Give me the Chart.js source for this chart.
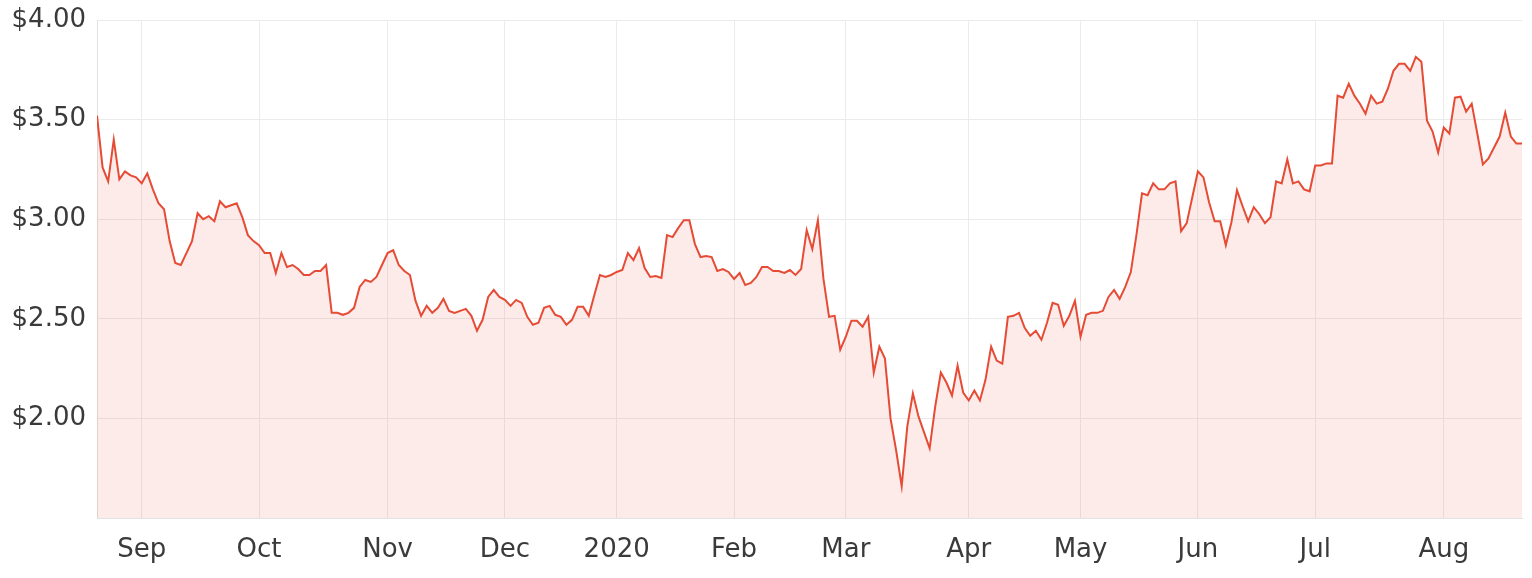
<!DOCTYPE html>
<html>
<head>
<meta charset="utf-8">
<script src="https://cdn.jsdelivr.net/npm/chart.js@4.4.0/dist/chart.umd.min.js"></script>
<style>
  html, body { margin: 0; padding: 0; background: #ffffff; }
  #wrap { width: 1532px; height: 578px; position: relative; }
</style>
</head>
<body>
<div id="wrap"><canvas id="c" width="1532" height="578"></canvas></div>
<script>
// Month tick labels and the trading-day index at which each month starts
const monthLabels = ['Sep','Oct','Nov','Dec','2020','Feb','Mar','Apr','May','Jun','Jul','Aug'];
const monthStartIndex = [8, 29, 52, 73, 93, 114, 134, 156, 176, 197, 218, 241];

// Y-axis tick values
const yTicks = [1.5, 2.0, 2.5, 3.0, 3.5, 4.0];

// Daily closing prices (one per trading day, Aug 2019 - Aug 2020)
const prices = [
  3.52, 3.26, 3.19, 3.40, 3.20, 3.24, 3.22, 3.21, 3.18, 3.23,
  3.15, 3.08, 3.05, 2.89, 2.78, 2.77, 2.83, 2.89, 3.03, 3.00,
  3.015, 2.99, 3.09, 3.06, 3.07, 3.08, 3.01, 2.92, 2.89, 2.87,
  2.83, 2.83, 2.73, 2.83, 2.76, 2.77, 2.75, 2.72, 2.72, 2.74,
  2.74, 2.77, 2.53, 2.53, 2.52, 2.53, 2.555, 2.66, 2.695, 2.685,
  2.71, 2.77, 2.83, 2.845, 2.77, 2.74, 2.72, 2.59, 2.515, 2.565,
  2.53, 2.555, 2.60, 2.54, 2.53, 2.54, 2.55, 2.515, 2.44, 2.495,
  2.61, 2.645, 2.61, 2.595, 2.565, 2.595, 2.58, 2.51, 2.47, 2.48,
  2.555, 2.565, 2.52, 2.51, 2.47, 2.495, 2.56, 2.56, 2.515, 2.62,
  2.72, 2.71, 2.72, 2.735, 2.745, 2.83, 2.795, 2.855, 2.755, 2.71,
  2.715, 2.705, 2.92, 2.91, 2.955, 2.995, 2.995, 2.875, 2.81, 2.815,
  2.81, 2.74, 2.75, 2.735, 2.70, 2.73, 2.67, 2.68, 2.71, 2.76,
  2.76, 2.74, 2.74, 2.73, 2.745, 2.72, 2.75, 2.945, 2.85, 2.995,
  2.70, 2.51, 2.515, 2.345, 2.41, 2.49, 2.49, 2.46, 2.51, 2.23,
  2.36, 2.30, 2.00, 1.84, 1.66, 1.96, 2.125, 2.01, 1.93, 1.85,
  2.06, 2.23, 2.18, 2.115, 2.265, 2.13, 2.09, 2.14, 2.09, 2.195,
  2.36, 2.29, 2.275, 2.51, 2.515, 2.53, 2.455, 2.415, 2.44, 2.395,
  2.48, 2.58, 2.57, 2.465, 2.515, 2.59, 2.41, 2.52, 2.53, 2.53,
  2.54, 2.61, 2.645, 2.60, 2.66, 2.735, 2.92, 3.13, 3.12, 3.18,
  3.15, 3.15, 3.18, 3.19, 2.94, 2.98, 3.11, 3.24, 3.21, 3.085,
  2.99, 2.99, 2.87, 2.985, 3.145, 3.065, 2.99, 3.06, 3.025, 2.98,
  3.01, 3.19, 3.18, 3.30, 3.18, 3.19, 3.15, 3.14, 3.27, 3.27,
  3.28, 3.28, 3.62, 3.61, 3.68, 3.62, 3.58, 3.53, 3.62, 3.58,
  3.59, 3.655, 3.745, 3.78, 3.78, 3.745, 3.815, 3.79, 3.495, 3.44,
  3.335, 3.46, 3.43, 3.61, 3.615, 3.54, 3.58, 3.43, 3.275, 3.305,
  3.36, 3.415, 3.535, 3.415, 3.38, 3.38
];

const points = prices.map((v, i) => ({ x: i, y: v }));
const FONT = { family: '"DejaVu Sans", sans-serif', size: 26 };
const TEXT = '#3a3a3a';
const GRID = '#ebebeb';

new Chart(document.getElementById('c'), {
  type: 'line',
  data: {
    datasets: [{
      data: points,
      borderColor: '#e54b35',
      borderWidth: 2,
      backgroundColor: 'rgba(229, 75, 53, 0.11)',
      fill: 'start',
      pointRadius: 0,
      tension: 0
    }]
  },
  options: {
    responsive: false,
    animation: false,
    events: [],
    layout: { padding: { top: 20, right: 10, bottom: 0, left: 0 } },
    plugins: { legend: { display: false }, tooltip: { enabled: false } },
    scales: {
      x: {
        type: 'linear',
        min: 0,
        max: prices.length - 1,
        afterBuildTicks: (scale) => { scale.ticks = monthStartIndex.map(v => ({ value: v })); },
        afterFit: (scale) => { scale.height = 60; scale.paddingLeft = 0; scale.paddingRight = 0; },
        ticks: {
          autoSkip: false,
          maxRotation: 0,
          padding: 17,
          color: TEXT,
          font: FONT,
          callback: (v) => { const k = monthStartIndex.indexOf(v); return k >= 0 ? monthLabels[k] : ''; }
        },
        grid: { color: GRID, drawTicks: false },
        border: { color: '#e2e2e2', width: 1 }
      },
      y: {
        min: yTicks[0],
        max: yTicks[yTicks.length - 1],
        afterBuildTicks: (scale) => { scale.ticks = yTicks.map(v => ({ value: v })); },
        afterFit: (scale) => { scale.width = 97; scale.paddingTop = 0; scale.paddingBottom = 0; },
        ticks: {
          padding: 11,
          color: TEXT,
          font: FONT,
          callback: (v) => (v === yTicks[0] ? '' : '$' + v.toFixed(2))
        },
        grid: { color: GRID, drawTicks: false },
        border: { color: '#e2e2e2', width: 1 }
      }
    }
  }
});
</script>
</body>
</html>
